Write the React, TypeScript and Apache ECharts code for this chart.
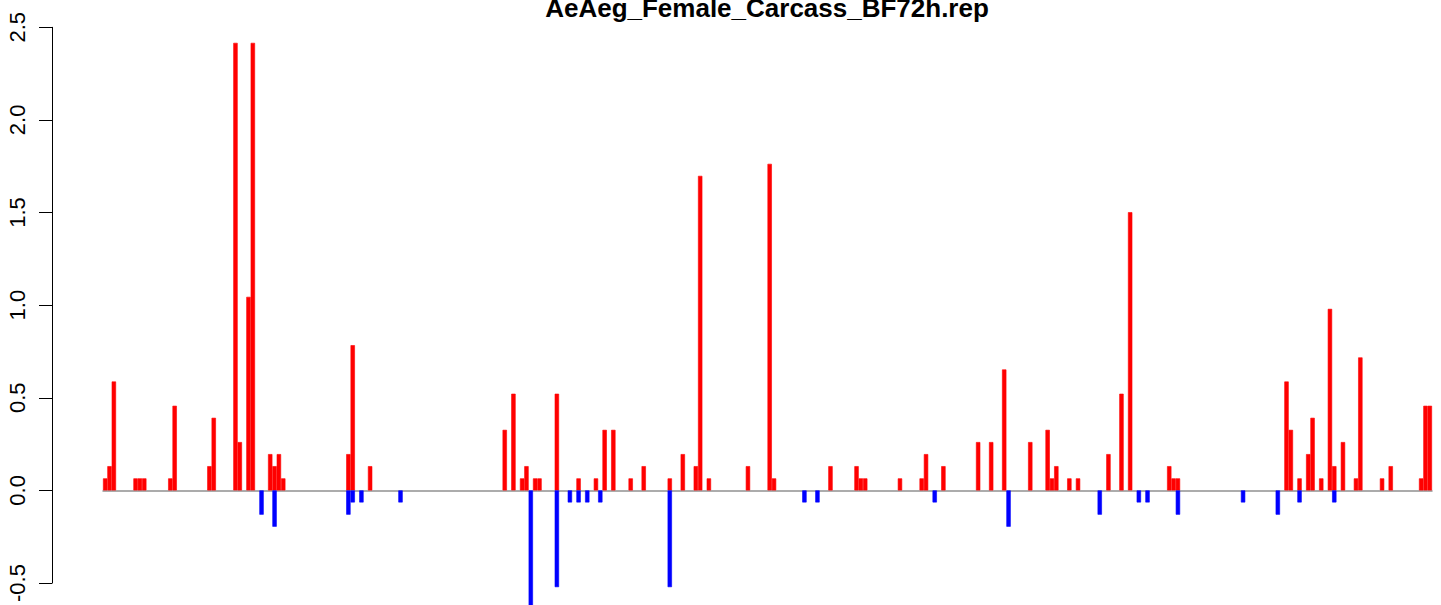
import React, { useEffect, useRef } from "react";
import * as echarts from "echarts";

const chartTitle = "AeAeg_Female_Carcass_BF72h.rep";
const binCount = 306;

// positive (red) bars: bin index and value
const upIdx = [0, 1, 2, 7, 8, 9, 15, 16, 24, 25, 30, 31, 33, 34, 38, 39, 40, 41, 56, 57, 61, 92, 94, 96, 97, 99, 100, 104, 109, 113, 115, 117, 121, 124, 130, 133, 136, 137, 139, 148, 153, 154, 167, 173, 174, 175, 183, 188, 189, 193, 201, 204, 207, 213, 217, 218, 219, 222, 224, 231, 234, 236, 245, 246, 247, 272, 273, 275, 277, 278, 280, 282, 283, 285, 288, 289, 294, 296, 303, 304, 305];
const upVal = [0.065, 0.131, 0.588, 0.065, 0.065, 0.065, 0.065, 0.457, 0.131, 0.392, 2.416, 0.261, 1.045, 2.416, 0.196, 0.131, 0.196, 0.065, 0.196, 0.784, 0.131, 0.327, 0.522, 0.065, 0.131, 0.065, 0.065, 0.522, 0.065, 0.065, 0.327, 0.327, 0.065, 0.131, 0.065, 0.196, 0.131, 1.698, 0.065, 0.131, 1.763, 0.065, 0.131, 0.131, 0.065, 0.065, 0.065, 0.065, 0.196, 0.131, 0.261, 0.261, 0.653, 0.261, 0.327, 0.065, 0.131, 0.065, 0.065, 0.196, 0.522, 1.502, 0.131, 0.065, 0.065, 0.588, 0.327, 0.065, 0.196, 0.392, 0.065, 0.98, 0.131, 0.261, 0.065, 0.718, 0.065, 0.131, 0.065, 0.457, 0.457];

// negative (blue) bars: bin index and value
const downIdx = [36, 39, 56, 57, 59, 68, 98, 104, 107, 109, 111, 114, 130, 161, 164, 191, 208, 229, 238, 240, 247, 262, 270, 275, 283];
const downVal = [-0.131, -0.196, -0.131, -0.065, -0.065, -0.065, -0.653, -0.522, -0.065, -0.065, -0.065, -0.065, -0.522, -0.065, -0.065, -0.065, -0.196, -0.131, -0.065, -0.065, -0.131, -0.065, -0.131, -0.065, -0.065];

const yMin = -0.5;
const yMax = 2.5;
const yStep = 0.5;

export default function App() {
  const ref = useRef<HTMLDivElement>(null);
  useEffect(() => {
    if (!ref.current) return;
    const chart = echarts.init(ref.current, null, { renderer: "svg" });
    const categories = Array.from({ length: binCount }, (_, i) => String(i + 1));
    const up: (number | string)[] = categories.map(() => "-");
    const down: (number | string)[] = categories.map(() => "-");
    upIdx.forEach((k, j) => {
      up[k] = upVal[j];
    });
    downIdx.forEach((k, j) => {
      down[k] = downVal[j];
    });
    const font = "Liberation Sans";
    chart.setOption({
      animation: false,
      backgroundColor: "#ffffff",
      grid: { left: 103, width: 1329, top: 27.3, height: 560.4, containLabel: false },
      xAxis: {
        type: "category",
        data: categories,
        boundaryGap: true,
        axisLine: { show: true, onZero: true, lineStyle: { color: "#909090", width: 1.5 } },
        axisTick: { show: false },
        axisLabel: { show: false },
        splitLine: { show: false },
      },
      yAxis: {
        type: "value",
        min: yMin,
        max: yMax,
        interval: yStep,
        offset: 51,
        axisLine: { show: true, onZero: false, lineStyle: { color: "#000", width: 1 } },
        axisTick: { show: true, length: 13, lineStyle: { color: "#000", width: 1 } },
        axisLabel: {
          rotate: 90,
          margin: 24,
          color: "#000",
          fontFamily: font,
          fontSize: 22,
          formatter: (v: number) => v.toFixed(1),
        },
        splitLine: { show: false },
      },
      graphic: [
        {
          type: "text",
          x: 767,
          y: 8,
          style: {
            text: chartTitle,
            fontFamily: font,
            fontSize: 26,
            fontWeight: "bold",
            fill: "#000",
            align: "center",
            verticalAlign: "middle",
          },
        },
      ],
      series: [
        {
          type: "bar",
          name: "up",
          data: up,
          stack: "s",
          barCategoryGap: "0%",
          clip: false,
          itemStyle: { color: "#ff0000", borderColor: "#ff0000", borderWidth: 0.6 },
        },
        {
          type: "bar",
          name: "down",
          data: down,
          stack: "s",
          barCategoryGap: "0%",
          clip: false,
          itemStyle: { color: "#0000ff", borderColor: "#0000ff", borderWidth: 0.6 },
        },
      ],
    });
    return () => chart.dispose();
  }, []);
  return (
    <div
      ref={ref}
      style={{ position: "fixed", left: 0, top: 0, width: 1441, height: 605, background: "#fff" }}
    />
  );
}
